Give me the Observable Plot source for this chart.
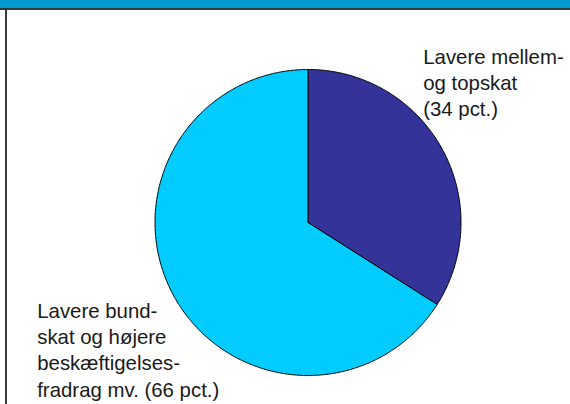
<!DOCTYPE html>
<html>
<head>
<meta charset="utf-8">
<script src="https://cdn.jsdelivr.net/npm/d3@7"></script>
<script src="https://cdn.jsdelivr.net/npm/@observablehq/plot@0.6"></script>
<style>
  html, body { margin: 0; padding: 0; background: #fff; }
  #wrap { position: relative; width: 570px; height: 404px; overflow: hidden; font-family: "Liberation Sans", Arial, sans-serif; }
  #bar { position: absolute; left: 0; top: 0; width: 570px; height: 8px; background: #0099cc; }
  #barline { position: absolute; left: 0; top: 8px; width: 570px; height: 2px; background: #2b3b42; }
  #leftline { position: absolute; left: 5px; top: 10px; width: 2px; height: 394px; background: #3a3a3a; }
  #chart { position: absolute; left: 0; top: 0; }
</style>
</head>
<body>
<div id="wrap">
  <div id="chart"></div>
  <div id="bar"></div>
  <div id="barline"></div>
  <div id="leftline"></div>
</div>
<script>
// Data
const categories = ["Lavere mellem- og topskat", "Lavere bundskat og højere beskæftigelsesfradrag mv."];
const shares = [34, 66];
const labelTexts = ["Lavere mellem-\nog topskat\n(34 pct.)", "Lavere bund-\nskat og højere\nbeskæftigelses-\nfradrag mv. (66 pct.)"];
const colors = ["#333399", "#00ccff"];

// Build slice outlines (angles clockwise from 12 o'clock) on a unit circle
const total = d3.sum(shares);
const pts = [];
let start = 0;
categories.forEach((c, i) => {
  const end = start + shares[i] / total * 2 * Math.PI;
  pts.push({cat: c, x: 0, y: 0});
  const n = Math.max(2, Math.ceil((end - start) / (Math.PI / 360)));
  for (let k = 0; k <= n; k++) {
    const a = start + (end - start) * k / n;
    pts.push({cat: c, x: Math.sin(a), y: Math.cos(a)});
  }
  pts.push({cat: c, x: 0, y: 0});
  start = end;
});

const R = 153, cx = 307.5, cy = 222;
const chart = Plot.plot({
  width: 570,
  height: 404,
  marginLeft: cx - R,
  marginRight: 570 - cx - R,
  marginTop: cy - R,
  marginBottom: 404 - cy - R,
  x: {domain: [-1, 1], axis: null},
  y: {domain: [-1, 1], axis: null},
  color: {domain: categories, range: colors},
  style: {fontFamily: "'Liberation Sans', Arial, sans-serif", background: "transparent"},
  marks: [
    Plot.line(pts, {x: "x", y: "y", z: "cat", fill: "cat", stroke: "#000", strokeWidth: 1, curve: "linear"}),
    Plot.text([labelTexts[0]], {
      x: (422.7 - cx) / R, y: 1 - (44.5 - (cy - R)) / R,
      text: d => d, textAnchor: "start", lineAnchor: "top",
      fontSize: 20.4, lineHeight: 1.29, fill: "#1a1a1a"
    }),
    Plot.text([labelTexts[1]], {
      x: (36.7 - cx) / R, y: 1 - (298.5 - (cy - R)) / R,
      text: d => d, textAnchor: "start", lineAnchor: "top",
      fontSize: 20.4, lineHeight: 1.29, fill: "#1a1a1a"
    })
  ]
});
document.getElementById("chart").appendChild(chart);
</script>
</body>
</html>
